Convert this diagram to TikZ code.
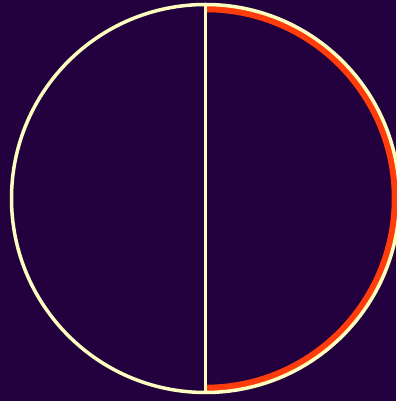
\documentclass[tikz,border=0pt]{standalone}
\definecolor{bgpurple}{HTML}{23013F}
\definecolor{cream}{HTML}{FCFDBF}
\definecolor{hotred}{HTML}{FF3D0C}
\tikzset{
  outline/.style={draw=cream, line width=3.5pt},
  redarc/.style={draw=hotred, line width=6.5pt, line cap=butt},
}
\begin{document}
\begin{tikzpicture}[x=1pt,y=1pt]
  \fill[bgpurple] (0,0) rectangle (396,401);
  \useasboundingbox (0,0) rectangle (396,401);
  \coordinate (c) at (205.5,202.5);
  \coordinate (top) at (205.5,396.5);
  \coordinate (bot) at (205.5,8.5);
  \draw[redarc] (c) ++(90:189.5) arc[start angle=90, end angle=-90, radius=189.5];
  \draw[outline] (c) circle[radius=194];
  \draw[draw=cream, line width=3pt] (top) -- (bot);
\end{tikzpicture}
\end{document}
